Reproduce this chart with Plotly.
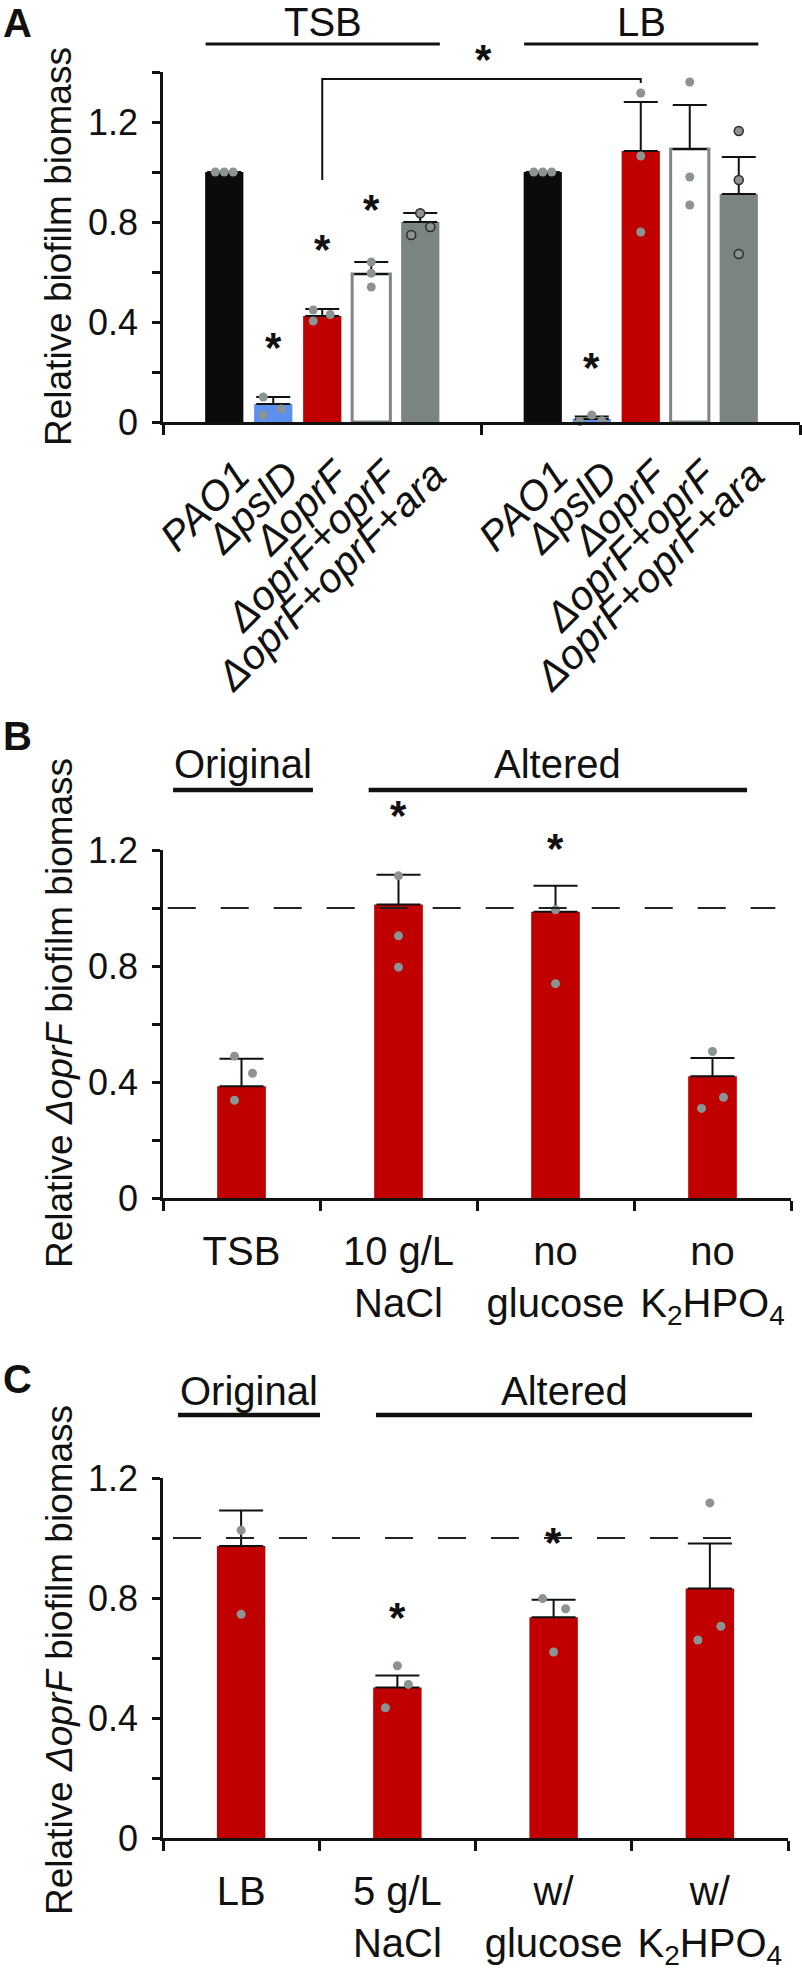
import plotly.graph_objects as go

# ---------------- data ----------------
strains_A = ["PAO1", "ΔpslD", "ΔoprF", "ΔoprF+oprF", "ΔoprF+oprF+ara"]
media_A = ["TSB", "LB"]
tsb_mean = [1.000, 0.072, 0.424, 0.592, 0.800]
tsb_sem = [0.000, 0.028, 0.028, 0.048, 0.036]
tsb_reps = [[1.000, 1.000, 1.000], [0.100, 0.052, 0.028], [0.448, 0.430, 0.404],
            [0.640, 0.595, 0.540], [0.835, 0.748, 0.780]]
lb_mean = [1.000, 0.012, 1.084, 1.092, 0.912]
lb_sem = [0.000, 0.010, 0.196, 0.176, 0.148]
lb_reps = [[1.000, 1.000, 1.000], [0.002, 0.028, 0.005], [1.316, 1.064, 0.760],
           [1.360, 0.980, 0.868], [1.164, 0.968, 0.672]]
stars_tsb = [None, 0.34, 0.73, 0.89, None]
stars_lb = [None, 0.26, None, None, None]

cond_B = ["TSB", "10 g/L<br>NaCl", "no<br>glucose", "no<br>K<sub>2</sub>HPO<sub>4</sub>"]
mean_B = [0.385, 1.012, 0.987, 0.420]
sem_B = [0.095, 0.103, 0.090, 0.063]
reps_B = [[0.489, 0.430, 0.337], [1.111, 0.904, 0.796], [1.303, 0.994, 0.739], [0.505, 0.347, 0.309]]
stars_B = [None, 1.355, 1.241, None]

cond_C = ["LB", "5 g/L<br>NaCl", "w/<br>glucose", "w/<br>K<sub>2</sub>HPO<sub>4</sub>"]
mean_C = [0.973, 0.502, 0.736, 0.832]
sem_C = [0.119, 0.040, 0.058, 0.150]
reps_C = [[1.342, 1.026, 0.746], [0.574, 0.512, 0.434], [0.798, 0.764, 0.620], [1.117, 0.706, 0.660]]
stars_C = [None, 0.767, 1.018, None]

yticks = [0, 0.4, 0.8, 1.2]
yticks_minor_A = [0.2, 0.6, 1.0, 1.4]
yticks_minor_BC = [0.2, 0.6, 1.0]

# ---------------- style ----------------
W, H = 802, 1980
FONT = "Liberation Sans, Arial, sans-serif"
INK = "#111111"
DOT = "#8b9492"
FILL_A = ["#0b0b0b", "#5b8ff0", "#c00000", "#ffffff", "#7a8583"]
EDGE_A = ["#0b0b0b", "#5b8ff0", "#c00000", "#7d8886", "#7a8583"]
EDGEW_A = [0, 0, 0, 3, 0]
RED = "#c00000"
TICK_FS = 36
STAR_FS = 42
LABEL_FS_A = 41
LABEL_SHIFT_A = 0.28  # horizontal nudge of the slanted labels (axis units)
YTITLE_X = 59
# dot jitter in pixels
JIT_TSB = [[-9, 0, 9], [-10, 8, -10], [-9, 8, -9], [0, 0, 0], [0, -9, 10]]
JIT_LB = [[-9, 0, 9], [-12, 0, 10], [0, 0, 0], [0, 0, 0], [0, 0, 0]]
JIT_B = [[-7, 11, -7], [0, 0, 0], [0, 0, 0], [0, 11, -11]]
JIT_C = [[0, 0, 0], [0, 11, -12], [-11, 12, 0], [0, 11, -12]]

# panel pixel boxes: (left, right, top, bottom)
BOX_A = (163, 800, 72, 422)
BOX_B = (163, 791, 850, 1198)
BOX_C = (163, 788, 1478, 1838)
XR_A, YR_A = (0, 13), (0, 1.4)
XR_B, YR_B = (0, 4), (0, 1.2)
XR_C, YR_C = (0, 4), (0, 1.2)


def dom(box):
    l, r, t, b = box
    return [l / W, r / W], [1 - b / H, 1 - t / H]


def ppu(box, xr):
    return (box[1] - box[0]) / (xr[1] - xr[0])


def xp(box, xr, v):
    px = box[0] + (v - xr[0]) / (xr[1] - xr[0]) * (box[1] - box[0])
    return px / W


def yp(box, yr, v):
    px = box[3] - (v - yr[0]) / (yr[1] - yr[0]) * (box[3] - box[2])
    return 1 - px / H


fig = go.Figure()

# ---------------- panel A ----------------
n = len(strains_A)
group_gap = 6.5
x_A = [g * group_gap + 1.25 + i for g in range(2) for i in range(n)]
mean_A = tsb_mean + lb_mean
sem_A = tsb_sem + lb_sem
reps_A = tsb_reps + lb_reps
jit_A = JIT_TSB + JIT_LB
pA = ppu(BOX_A, XR_A)

fig.add_trace(go.Bar(
    x=x_A, y=mean_A, width=0.78, xaxis="x", yaxis="y",
    marker=dict(color=FILL_A * 2, line=dict(color=EDGE_A * 2, width=EDGEW_A * 2)),
    error_y=dict(type="data", symmetric=False, array=sem_A, arrayminus=[0] * len(sem_A),
                 color=INK, thickness=2, width=17),
    hoverinfo="skip"))

for k, (xc, reps, jit) in enumerate(zip(x_A, reps_A, jit_A)):
    is_ara = (k % n) == n - 1
    fig.add_trace(go.Scatter(
        x=[xc + j / pA for j in jit], y=reps, mode="markers", xaxis="x", yaxis="y",
        cliponaxis=False,
        marker=dict(size=9, color=DOT,
                    line=dict(color="#2a2a2a" if is_ara else DOT, width=1.5 if is_ara else 0)),
        hoverinfo="skip"))


# ---------------- panels B, C ----------------
def add_simple(cond, means, sems, reps, jits, xa, ya, box, xr):
    xs = [i + 0.5 for i in range(len(cond))]
    p = ppu(box, xr)
    fig.add_trace(go.Bar(
        x=xs, y=means, width=0.31, xaxis=xa, yaxis=ya,
        marker=dict(color=RED, line=dict(width=0)),
        error_y=dict(type="data", symmetric=False, array=sems, arrayminus=[0] * len(sems),
                     color=INK, thickness=2, width=22),
        hoverinfo="skip"))
    for xc, r, jit in zip(xs, reps, jits):
        fig.add_trace(go.Scatter(
            x=[xc + j / p for j in jit], y=r, mode="markers", xaxis=xa, yaxis=ya,
            cliponaxis=False, marker=dict(size=9, color=DOT), hoverinfo="skip"))
    return xs


xs_B = add_simple(cond_B, mean_B, sem_B, reps_B, JIT_B, "x2", "y2", BOX_B, XR_B)
xs_C = add_simple(cond_C, mean_C, sem_C, reps_C, JIT_C, "x3", "y3", BOX_C, XR_C)

# reference dashed lines at 1.0
for xa, ya, x0, x1 in (("x2", "y2", 0.03, 3.9), ("x3", "y3", 0.064, 3.64)):
    fig.add_trace(go.Scatter(x=[x0, x1], y=[1.0, 1.0], mode="lines", xaxis=xa, yaxis=ya,
                             line=dict(color="#222222", width=2, dash="28px,25px"),
                             hoverinfo="skip"))


# ---------------- axes ----------------
def xaxis_cfg(box, xr, tickvals, ticktext, minor_vals, angle, fsize, standoff, labels=True):
    d, _ = dom(box)
    return dict(domain=d, range=list(xr), showline=True, linecolor=INK, linewidth=2.5,
                showgrid=False, zeroline=False, fixedrange=True, automargin=False,
                tickmode="array", tickvals=tickvals, ticktext=ticktext,
                showticklabels=labels,
                ticks="outside", ticklen=10, tickcolor="rgba(0,0,0,0)", tickwidth=2.5,
                tickangle=angle, ticklabelstandoff=standoff,
                tickfont=dict(family=FONT, size=fsize, color=INK),
                minor=dict(tickmode="array", tickvals=minor_vals, ticks="outside",
                           ticklen=10, tickwidth=2.5, tickcolor=INK, showgrid=False))


def yaxis_cfg(box, yr, minor_vals, fsize):
    _, d = dom(box)
    return dict(domain=d, range=list(yr), showline=True, linecolor=INK, linewidth=2.5,
                showgrid=False, zeroline=False, fixedrange=True, automargin=False,
                tickmode="array", tickvals=yticks, ticktext=[f"{v:g}" for v in yticks],
                ticks="outside", ticklen=8, tickwidth=2.5, tickcolor=INK,
                ticklabelstandoff=7,
                tickfont=dict(family=FONT, size=fsize, color=INK),
                minor=dict(tickmode="array", tickvals=minor_vals, ticks="outside",
                           ticklen=8, tickwidth=2.5, tickcolor=INK, showgrid=False))


labels_A = [f"<i>{s}</i>" for s in strains_A] * 2
xA_dom, _ = dom(BOX_A)
fig.update_layout(
    xaxis=xaxis_cfg(BOX_A, XR_A, x_A, labels_A, [0, group_gap, 2 * group_gap], -45, LABEL_FS_A, 2,
                    labels=False),
    # label-only axis for panel A's slanted strain names
    xaxis4=dict(domain=xA_dom, range=list(XR_A), overlaying="x", anchor="y", side="bottom",
                showline=False, showgrid=False, zeroline=False, fixedrange=True,
                automargin=False, tickmode="array",
                tickvals=[v + LABEL_SHIFT_A for v in x_A], ticktext=labels_A,
                ticks="outside", ticklen=10, tickcolor="rgba(0,0,0,0)",
                tickangle=-45, ticklabelstandoff=2,
                tickfont=dict(family=FONT, size=LABEL_FS_A, color=INK)),
    yaxis=yaxis_cfg(BOX_A, YR_A, yticks_minor_A, TICK_FS),
    xaxis2=xaxis_cfg(BOX_B, XR_B, xs_B, cond_B, [0, 1, 2, 3, 4], 0, 40, 6),
    yaxis2=yaxis_cfg(BOX_B, YR_B, yticks_minor_BC, TICK_FS),
    xaxis3=xaxis_cfg(BOX_C, XR_C, xs_C, cond_C, [0, 1, 2, 3, 4], 0, 40, 6),
    yaxis3=yaxis_cfg(BOX_C, YR_C, yticks_minor_BC, TICK_FS),
)
fig.layout.xaxis2.anchor = "y2"
fig.layout.xaxis3.anchor = "y3"
fig.layout.yaxis2.anchor = "x2"
fig.layout.yaxis3.anchor = "x3"
# an invisible trace so the label axis is rendered
fig.add_trace(go.Scatter(x=[x_A[0]], y=[0], xaxis="x4", yaxis="y", mode="markers",
                         marker=dict(size=1, opacity=0), hoverinfo="skip"))

shapes = []
annotations = []


def txt(text, x, y, size, bold=False, angle=0, yshift=0):
    annotations.append(dict(text=f"<b>{text}</b>" if bold else text, x=x, y=y,
                            xref="paper", yref="paper",
                            showarrow=False, xanchor="center", yanchor="middle",
                            textangle=angle, yshift=yshift,
                            font=dict(family=FONT, size=size, color=INK)))


def star(x, y):
    txt("*", x, y, STAR_FS, bold=True, yshift=-10)


def hline(box, xr, yr, x0, x1, yv, width):
    shapes.append(dict(type="line", xref="paper", yref="paper",
                       x0=xp(box, xr, x0), x1=xp(box, xr, x1),
                       y0=yp(box, yr, yv), y1=yp(box, yr, yv),
                       line=dict(color=INK, width=width)))


# panel A header lines and labels
for g, name in enumerate(media_A):
    x0 = x_A[g * n] - 0.38
    x1 = x_A[g * n + n - 1] + 0.40
    hline(BOX_A, XR_A, YR_A, x0, x1, 1.512, 3)
    txt(name, xp(BOX_A, XR_A, (x0 + x1) / 2), yp(BOX_A, YR_A, 1.60), 40)
star(xp(BOX_A, XR_A, group_gap + 0.05), yp(BOX_A, YR_A, 1.488))

# comparison bracket between the two ΔoprF bars
iL, iR = x_A[2], x_A[n + 2]
shapes.append(dict(type="path", xref="x", yref="y",
                   path=f"M {iL},0.968 L {iL},1.372 L {iR},1.372 L {iR},1.356",
                   line=dict(color=INK, width=2)))

for xc, s in zip(x_A, stars_tsb + stars_lb):
    if s is not None:
        star(xp(BOX_A, XR_A, xc), yp(BOX_A, YR_A, s))

# panels B and C headers
for box, xr, yr, o0, o1, a0, a1, yl, ytx in ((BOX_B, XR_B, YR_B, 0.064, 0.955, 1.31, 3.72, 1.407, 1.495),
                                             (BOX_C, XR_C, YR_C, 0.096, 1.005, 1.363, 3.77, 1.41, 1.49)):
    hline(box, xr, yr, o0, o1, yl, 4.5)
    hline(box, xr, yr, a0, a1, yl, 4.5)
    txt("Original", xp(box, xr, (o0 + o1) / 2), yp(box, yr, ytx), 40)
    txt("Altered", xp(box, xr, (a0 + a1) / 2), yp(box, yr, ytx), 40)

for xc, s in zip(xs_B, stars_B):
    if s is not None:
        star(xp(BOX_B, XR_B, xc), yp(BOX_B, YR_B, s))
for xc, s in zip(xs_C, stars_C):
    if s is not None:
        star(xp(BOX_C, XR_C, xc), yp(BOX_C, YR_C, s))

# panel letters
txt("A", 17 / W, 1 - 23 / H, 40, bold=True)
txt("B", 17 / W, 1 - 736 / H, 40, bold=True)
txt("C", 17 / W, 1 - 1379 / H, 40, bold=True)

# y titles
txt("Relative biofilm biomass", YTITLE_X / W, 1 - 247 / H, 37, angle=-90)
txt("Relative <i>ΔoprF</i> biofilm biomass", YTITLE_X / W, 1 - 1013 / H, 37, angle=-90)
txt("Relative <i>ΔoprF</i> biofilm biomass", YTITLE_X / W, 1 - 1660 / H, 37, angle=-90)

fig.update_layout(
    width=W, height=H, margin=dict(l=0, r=0, t=0, b=0, pad=0, autoexpand=False),
    paper_bgcolor="white", plot_bgcolor="white", showlegend=False,
    barmode="overlay", shapes=shapes, annotations=annotations,
    font=dict(family=FONT, color=INK),
)

# remove the default 8px page margin so the figure sits at the window origin
fig.write_html("out.html", config={"displayModeBar": False},
               post_script="document.body.style.margin='0';document.body.style.overflow='hidden';")
